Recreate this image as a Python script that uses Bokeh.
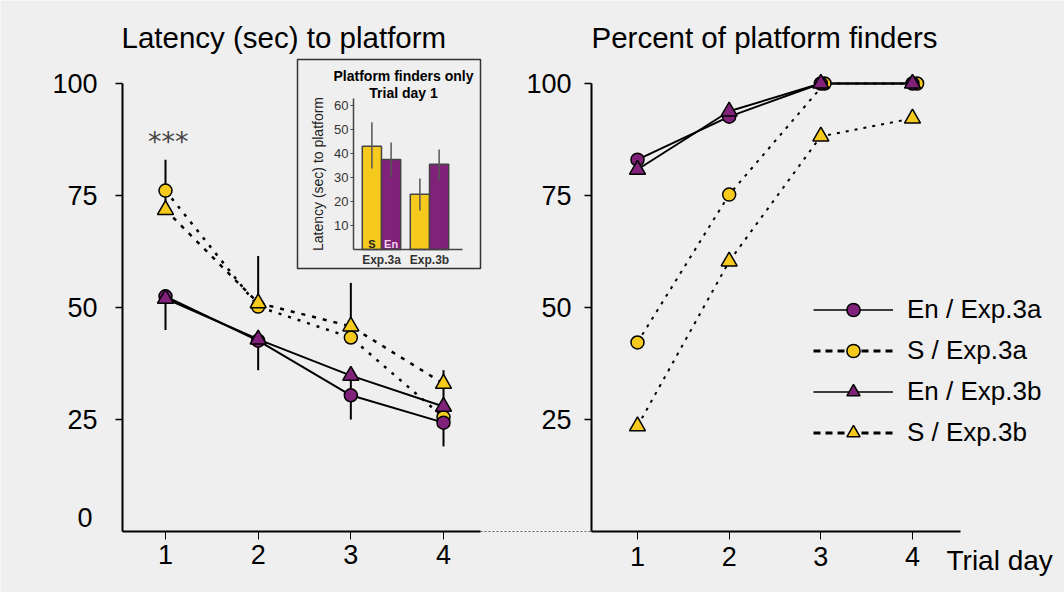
import numpy as np
from bokeh.plotting import figure
from bokeh.models import (Range1d, LinearAxis, FixedTicker, ColumnDataSource,
                          Legend, LegendItem)
from bokeh.core.properties import value
from bokeh.embed import file_html
from bokeh.resources import INLINE

# ---------------- data ----------------
days = [1, 2, 3, 4]
day_labels = ["1", "2", "3", "4"]

# Latency (sec) to platform
lat_en_3a = [52.5, 42.6, 30.4, 24.3]
lat_en_3b = [52.0, 42.9, 34.8, 27.9]
lat_s_3a = [76.1, 50.2, 43.3, 25.5]
lat_s_3b = [71.8, 51.0, 45.8, 33.0]
lat_err_hi = [83.0, 61.5, 55.5, 36.0]   # upper end of error bars (S groups)
lat_err_lo = [45.0, 36.0, 25.0, 19.0]   # lower end of error bars (En groups)

# Percent of platform finders
pct_en_3a = [83.0, 92.6, 100.0, 100.0]
pct_en_3b = [80.8, 93.8, 100.0, 100.0]
pct_s_3a = [42.2, 75.2, 100.0, 100.0]
pct_s_3b = [23.5, 60.3, 88.2, 92.2]
pct_s_3a_jitter = [0.0, 0.0, 0.04, 0.05]

# Inset: platform finders only, trial day 1
inset_groups = ["Exp.3a", "Exp.3b"]
inset_s = [43.0, 23.0]
inset_en = [37.5, 35.5]
inset_s_lo = [33.7, 16.2]
inset_s_hi = [53.0, 29.6]
inset_en_lo = [30.1, 28.7]
inset_en_hi = [44.6, 41.7]
inset_ticks = [10, 20, 30, 40, 50, 60]

# ---------------- style ----------------
BG = "#efefef"
PURPLE = "#80217a"
YELLOW = "#f6c91d"
FONT = "Liberation Sans"
W, H = 1064, 592

def mapper(v1, p1, v2, p2):
    k = (v2 - v1) / (p2 - p1)
    return lambda px: v1 + (px - p1) * k

# page pixel -> data value for each scale
px2x = mapper(1, 165, 4, 443)        # left panel x
px2r = mapper(1, 637, 4, 912)        # right panel x
px2y = mapper(0, 531, 100, 83)       # both panels y
px2ix = mapper(1, 381, 2, 429)       # inset x
px2iy = mapper(0, 249, 60, 105)      # inset y

p = figure(width=W, height=H,
           x_range=Range1d(px2x(0), px2x(W)),
           y_range=Range1d(px2y(H), px2y(0)),
           x_axis_type=None, y_axis_type=None,
           toolbar_location=None, output_backend="svg",
           min_border=0, background_fill_color=BG, border_fill_color=BG,
           outline_line_color=None)
p.extra_x_ranges = {"r": Range1d(px2r(0), px2r(W)),
                    "ix": Range1d(px2ix(0), px2ix(W))}
p.extra_y_ranges = {"iy": Range1d(px2iy(H), px2iy(0))}

def main_axis(**kw):
    base = dict(axis_line_color="black", axis_line_width=2,
                major_tick_line_color="black", major_tick_line_width=1.5,
                major_tick_in=0, minor_tick_in=0, minor_tick_out=0,
                major_label_text_font=FONT, major_label_text_font_size="27px",
                major_label_text_color="black")
    base.update(kw)
    return LinearAxis(**base)

# left panel axes
p.add_layout(main_axis(fixed_location=px2x(122), bounds=(0, 100),
                       ticker=FixedTicker(ticks=[25, 50, 75, 100]),
                       major_tick_out=7, major_label_standoff=18), "left")
p.add_layout(main_axis(fixed_location=0, bounds=(px2x(122), px2x(480)),
                       ticker=FixedTicker(ticks=days),
                       major_label_overrides=dict(zip(days, day_labels)),
                       major_tick_out=8, major_tick_line_width=1,
                       major_label_standoff=5), "below")
# right panel axes
p.add_layout(main_axis(x_range_name="r", fixed_location=px2r(591), bounds=(0, 100),
                       ticker=FixedTicker(ticks=[25, 50, 75, 100]),
                       major_tick_out=7, major_label_standoff=13), "left")
p.add_layout(main_axis(x_range_name="r", fixed_location=0,
                       bounds=(px2r(591), px2r(960)),
                       ticker=FixedTicker(ticks=days),
                       major_label_overrides=dict(zip(days, day_labels)),
                       major_tick_out=8, major_tick_line_width=1,
                       major_label_standoff=7), "below")

# dotted connector between the two x axes
p.line([px2x(480), px2x(590)], [0, 0], line_color="#666", line_width=1, line_dash="2 2")

# titles and extra texts
p.text(x=[px2x(121)], y=[px2y(37)], text=["Latency (sec) to platform"],
       text_font=value(FONT), text_font_size="29.5px", text_color="black",
       text_align="left", text_baseline="middle")
p.text(x=[px2r(591)], y=[px2y(37)], text=["Percent of platform finders"],
       x_range_name="r",
       text_font=value(FONT), text_font_size="29.5px", text_color="black",
       text_align="left", text_baseline="middle")
p.text(x=[px2x(92)], y=[px2y(516.5)], text=["0"],
       text_font=value(FONT), text_font_size="27px", text_color="black",
       text_align="right", text_baseline="middle")
p.text(x=[px2r(946)], y=[px2y(560)], text=["Trial day"], x_range_name="r",
       text_font=value(FONT), text_font_size="28px", text_color="black",
       text_align="left", text_baseline="middle")
p.text(x=[1.03], y=[px2y(141)], text=["***"],
       text_font=value("DejaVu Sans"), text_font_size="27px", text_color="#444",
       text_align="center", text_baseline="alphabetic")

# ---------------- left panel: latency ----------------
s_min = np.minimum(lat_s_3a, lat_s_3b)
en_max = np.maximum(lat_en_3a, lat_en_3b)
p.segment(x0=days, y0=s_min, x1=days, y1=lat_err_hi, line_color="black", line_width=2)
p.segment(x0=days, y0=en_max, x1=days, y1=lat_err_lo, line_color="black", line_width=2)

p.line(days, lat_en_3a, line_color="black", line_width=2)
p.line(days, lat_en_3b, line_color="black", line_width=2)
p.line(days, lat_s_3a, line_color="black", line_width=2.5, line_dash="3 7")
p.line(days, lat_s_3b, line_color="black", line_width=2.5, line_dash="4 7")

p.scatter(days, lat_s_3a, marker="circle", size=13, fill_color=YELLOW, line_color="black", line_width=1.5)
p.scatter(days, lat_en_3a, marker="circle", size=13, fill_color=PURPLE, line_color="black", line_width=1.5)
p.scatter(days, lat_en_3b, marker="triangle", size=16, fill_color=PURPLE, line_color="black", line_width=1.5)
p.scatter(days, lat_s_3b, marker="triangle", size=16, fill_color=YELLOW, line_color="black", line_width=1.5)

# ---------------- right panel: percent finders ----------------
s3a_x = np.array(days) + np.array(pct_s_3a_jitter)
p.line(days, pct_en_3a, x_range_name="r", line_color="black", line_width=2)
p.line(days, pct_en_3b, x_range_name="r", line_color="black", line_width=2)
p.line(s3a_x, pct_s_3a, x_range_name="r", line_color="black", line_width=2, line_dash="3 6")
p.line(days, pct_s_3b, x_range_name="r", line_color="black", line_width=2, line_dash="3 6")

p.scatter(s3a_x, pct_s_3a, x_range_name="r", marker="circle", size=13, fill_color=YELLOW, line_color="black", line_width=1.5)
p.scatter(days, pct_en_3a, x_range_name="r", marker="circle", size=13, fill_color=PURPLE, line_color="black", line_width=1.5)
p.scatter(days, pct_en_3b, x_range_name="r", marker="triangle", size=16, fill_color=PURPLE, line_color="black", line_width=1.5)
p.scatter(days, pct_s_3b, x_range_name="r", marker="triangle", size=16, fill_color=YELLOW, line_color="black", line_width=1.5)

# legend (samples only; a single NaN point so the legend draws them)
leg_src = ColumnDataSource(dict(x=[np.nan], y=[np.nan]))
def leg_pair(dash, lw, marker, color):
    ln = p.line("x", "y", source=leg_src, line_color="black", line_width=lw, line_dash=dash)
    mk = p.scatter("x", "y", source=leg_src, marker=marker, fill_color=color,
                   line_color="black", line_width=1.5)
    return [ln, mk]

legend = Legend(items=[
    LegendItem(label="En / Exp.3a", renderers=leg_pair("solid", 1.5, "circle", PURPLE)),
    LegendItem(label="S / Exp.3a", renderers=leg_pair("7 5", 3, "circle", YELLOW)),
    LegendItem(label="En / Exp.3b", renderers=leg_pair("solid", 1.5, "triangle", PURPLE)),
    LegendItem(label="S / Exp.3b", renderers=leg_pair("7 5", 3, "triangle", YELLOW)),
], location=(813, 143), glyph_width=80, glyph_height=33, label_standoff=14,
   spacing=8, padding=0, margin=0, background_fill_alpha=0, border_line_color=None,
   label_text_font=FONT, label_text_font_size="26px", label_text_color="black")
p.add_layout(legend)

# ---------------- inset ----------------
IR = dict(x_range_name="ix", y_range_name="iy")
p.quad(left=[px2ix(297)], right=[px2ix(480)], top=[px2iy(59)], bottom=[px2iy(268)],
       fill_color=None, line_color="#333", line_width=1.5, **IR)

gx = np.arange(1, len(inset_groups) + 1)
p.vbar(x=gx - 0.2, top=inset_s, width=0.4, bottom=0, fill_color=YELLOW,
       line_color="#444", line_width=1.5, **IR)
p.vbar(x=gx + 0.2, top=inset_en, width=0.4, bottom=0, fill_color=PURPLE,
       line_color="#444", line_width=1.5, **IR)
p.segment(x0=gx - 0.2, y0=inset_s_lo, x1=gx - 0.2, y1=inset_s_hi,
          line_color="#555", line_width=1.5, **IR)
p.segment(x0=gx + 0.2, y0=inset_en_lo, x1=gx + 0.2, y1=inset_en_hi,
          line_color="#555", line_width=1.5, **IR)

inset_axis_style = dict(axis_line_color="#444", axis_line_width=1.5,
                        major_tick_line_color="#444", major_tick_line_width=1,
                        major_tick_in=0, minor_tick_in=0, minor_tick_out=0,
                        major_label_text_font=FONT, major_label_text_color="#333")
p.add_layout(LinearAxis(fixed_location=px2ix(353), bounds=(0, 63),
                        ticker=FixedTicker(ticks=inset_ticks), major_tick_out=3,
                        major_label_text_font_size="13px", major_label_standoff=2,
                        axis_label="Latency (sec) to platform",
                        axis_label_text_font=FONT, axis_label_text_font_size="14px",
                        axis_label_text_font_style="normal", axis_label_text_color="#222",
                        axis_label_standoff=5,
                        **IR, **inset_axis_style), "left")
p.add_layout(LinearAxis(fixed_location=0, bounds=(px2ix(353), px2ix(462)),
                        ticker=FixedTicker(ticks=list(gx)),
                        major_label_overrides={int(g): n for g, n in zip(gx, inset_groups)},
                        major_tick_out=0, major_label_text_font_size="12px",
                        major_label_text_font_style="bold", major_label_standoff=3,
                        **IR, **inset_axis_style), "below")

p.text(x=[px2ix(403)] * 2, y=[px2iy(75), px2iy(92)],
       text=["Platform finders only", "Trial day 1"],
       text_font=value(FONT), text_font_size="14px", text_font_style="bold",
       text_color="black", text_align="center", text_baseline="middle", **IR)
p.text(x=[gx[0] - 0.2], y=[px2iy(243)], text=["S"], text_font=value(FONT),
       text_font_size="11px", text_font_style="bold", text_color="#222",
       text_align="center", text_baseline="middle", **IR)
p.text(x=[gx[0] + 0.2], y=[px2iy(243)], text=["En"], text_font=value(FONT),
       text_font_size="11px", text_font_style="bold", text_color="#f2d4ee",
       text_align="center", text_baseline="middle", **IR)

html = file_html(p, INLINE)
html = html.replace("<body>", '<body style="background-color:%s;">' % BG, 1)
open("out.html", "w").write(html)
